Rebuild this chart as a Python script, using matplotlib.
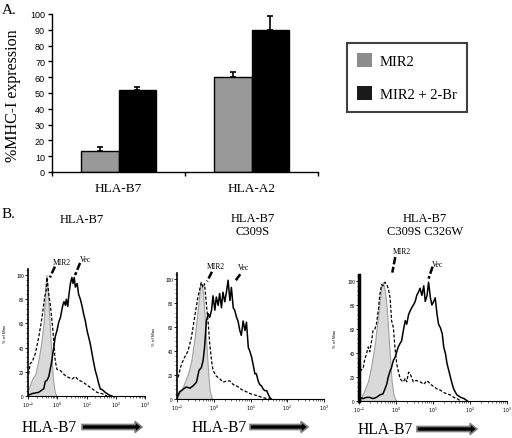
import matplotlib
matplotlib.use("Agg")
import matplotlib.pyplot as plt
import numpy as np
from matplotlib.patches import FancyArrow, Patch
from matplotlib.ticker import MultipleLocator, FixedLocator, NullFormatter

SERIF = ["Liberation Serif", "DejaVu Serif"]
SANS = ["Liberation Sans", "DejaVu Sans"]

# --- panel A: % MHC-I expression ---
alleles = ["HLA-B7", "HLA-A2"]
mir2 = [13.5, 60.0]
mir2_err = [2.5, 3.0]
mir2_br = [52.0, 90.0]
mir2_br_err = [2.0, 9.0]
series_names = ["MIR2", "MIR2 + 2-Br"]

# --- panel B: flow histograms, x = log10(HLA-B7 intensity), y = % of max ---
b7_iso_x = [-1.00, -0.95, -0.86, -0.75, -0.64, -0.54, -0.46, -0.41, -0.37, -0.32, -0.26, -0.20, -0.15, -0.09, -0.03]
b7_iso_y = [5, 8, 14, 18, 30, 45, 62, 90, 100, 85, 60, 35, 15, 4, 0]
b7_mir_x = [-0.98, -0.92, -0.86, -0.75, -0.63, -0.52, -0.43, -0.38, -0.35, -0.29, -0.24, -0.18, -0.12,
            -0.07, -0.01, 0.11, 0.22, 0.33, 0.50, 0.62, 0.73, 0.85, 1.02, 1.19, 1.36, 1.53, 1.70]
b7_mir_y = [18, 27, 28, 35, 49, 65, 82, 87, 98, 84, 76, 62, 46, 29, 22, 21, 18, 16, 14, 16, 13, 12, 9, 6, 3, 2, 0]
b7_vec_x = [-1.00, -0.86, -0.64, -0.46, -0.41, -0.35, -0.29, -0.20, -0.12, -0.07, -0.01, 0.05, 0.11, 0.14,
            0.19, 0.23, 0.28, 0.31, 0.36, 0.39, 0.45, 0.50, 0.54, 0.58, 0.62, 0.68, 0.73, 0.79, 0.85, 0.90,
            0.96, 1.02, 1.07, 1.13, 1.19, 1.25, 1.30, 1.36, 1.42, 1.47, 1.55, 1.64, 1.76, 1.87]
b7_vec_y = [0.5, 2, 3, 6, 12, 13, 16, 27, 40, 49, 54, 61, 65, 69, 75, 78, 75, 80, 74, 82, 93, 98, 93, 98,
            90, 93, 84, 80, 74, 68, 62, 54, 49, 43, 35, 27, 21, 16, 10, 6, 5, 3, 1, 0]

c309_iso_x = [-0.97, -0.88, -0.79, -0.70, -0.61, -0.52, -0.43, -0.36, -0.33, -0.29, -0.25, -0.20, -0.15, -0.11, -0.06, -0.02]
c309_iso_y = [3, 7, 14, 21, 32, 51, 76, 97, 96, 88, 71, 46, 21, 7, 1, 0]
c309_mir_x = [-0.97, -0.88, -0.79, -0.70, -0.61, -0.52, -0.43, -0.34, -0.29, -0.25, -0.20, -0.15, -0.11,
              -0.06, -0.02, 0.07, 0.16, 0.25, 0.35, 0.44, 0.53, 0.62, 0.75, 0.89, 1.03, 1.16, 1.35, 1.53]
c309_mir_y = [18, 29, 35, 40, 51, 68, 85, 97, 93, 96, 79, 63, 46, 32, 24, 19, 17, 14, 15, 15, 12, 11, 8, 6, 4, 3, 1, 0]
c309_vec_x = [-1.00, -0.93, -0.84, -0.75, -0.65, -0.56, -0.47, -0.40, -0.34, -0.29, -0.25, -0.20, -0.15,
              -0.11, -0.06, -0.02, 0.03, 0.07, 0.12, 0.16, 0.21, 0.25, 0.30, 0.35, 0.39, 0.44, 0.48, 0.53,
              0.57, 0.62, 0.66, 0.71, 0.75, 0.80, 0.85, 0.89, 0.94, 0.98, 1.03, 1.07, 1.12, 1.16, 1.21,
              1.25, 1.30, 1.35, 1.39, 1.44, 1.48, 1.53, 1.57]
c309_vec_y = [1, 6, 8, 10, 9, 11, 14, 24, 26, 32, 43, 65, 71, 68, 74, 86, 74, 85, 78, 88, 76, 89, 81, 90,
              99, 82, 93, 76, 74, 68, 65, 57, 53, 65, 57, 64, 43, 40, 35, 29, 21, 21, 15, 12, 11, 8, 7,
              7, 4, 1, 0]

c326_iso_x = [-0.94, -0.85, -0.75, -0.66, -0.57, -0.48, -0.39, -0.35, -0.30, -0.25, -0.21, -0.16, -0.12, -0.07, -0.03, 0.02]
c326_iso_y = [3, 9, 17, 31, 48, 72, 97, 99, 92, 78, 58, 36, 17, 6, 2, 0]
c326_mir_x = [-0.98, -0.89, -0.85, -0.80, -0.75, -0.71, -0.66, -0.62, -0.57, -0.53, -0.48, -0.44, -0.39,
              -0.35, -0.30, -0.25, -0.21, -0.16, -0.12, -0.07, -0.03, 0.02, 0.06, 0.11, 0.15, 0.20, 0.25,
              0.29, 0.34, 0.38, 0.43, 0.47, 0.52, 0.56, 0.65, 0.75, 0.84, 0.93, 1.02, 1.11, 1.20, 1.29,
              1.38, 1.47, 1.56, 1.65, 1.75]
c326_mir_y = [25, 27, 34, 39, 45, 41, 50, 59, 60, 64, 75, 88, 97, 96, 99, 97, 94, 86, 67, 61, 45, 31, 25,
              19, 17, 16, 19, 16, 24, 23, 19, 16, 17, 17, 16, 14, 17, 14, 12, 10, 9, 7, 6, 5, 3, 2, 0]
c326_vec_x = [-0.98, -0.89, -0.80, -0.71, -0.62, -0.53, -0.44, -0.35, -0.25, -0.21, -0.16, -0.12, -0.07,
              -0.03, 0.02, 0.06, 0.11, 0.15, 0.20, 0.25, 0.29, 0.34, 0.38, 0.43, 0.47, 0.52, 0.56, 0.61,
              0.65, 0.70, 0.75, 0.79, 0.84, 0.88, 0.93, 0.97, 1.02, 1.06, 1.11, 1.15, 1.20, 1.25, 1.29,
              1.34, 1.38, 1.43, 1.47, 1.52, 1.56, 1.61, 1.65, 1.75, 1.84, 1.93]
c326_vec_y = [3, 2, 3, 3, 2, 3, 5, 6, 14, 20, 25, 28, 34, 36, 41, 45, 48, 50, 59, 67, 64, 72, 75, 78, 80,
              83, 88, 91, 94, 88, 96, 83, 88, 99, 86, 80, 83, 86, 72, 64, 61, 56, 45, 39, 31, 25, 20, 14,
              10, 7, 5, 3, 2, 0]

hist_titles = ["HLA-B7", "HLA-B7\nC309S", "HLA-B7\nC309S C326W"]

fig = plt.figure(figsize=(5.12, 4.39), dpi=100)
W, H = 512.0, 439.0


def px_rect(x0, y_top, x1, y_bot):
    return [x0 / W, 1 - y_bot / H, (x1 - x0) / W, (y_bot - y_top) / H]


# ---------------- panel A ----------------
ax = fig.add_axes(px_rect(52, 15, 318, 173))
x = np.arange(len(alleles))
bw = 0.28
gray, black = "#999999", "#000000"
ax.bar(x - bw / 2, mir2, bw, color=gray, edgecolor="black", linewidth=1.0)
ax.bar(x + bw / 2, mir2_br, bw, color=black, edgecolor="black", linewidth=1.0)
ax.errorbar(x - bw / 2, mir2, yerr=[np.zeros(2), mir2_err], fmt="none", ecolor="black",
            elinewidth=1.2, capsize=2, capthick=1.2)
ax.errorbar(x + bw / 2, mir2_br, yerr=[np.zeros(2), mir2_br_err], fmt="none", ecolor="black",
            elinewidth=1.2, capsize=2, capthick=1.2)
ax.set_xlim(-0.5, 1.5)
ax.set_ylim(0, 100)
ax.spines["top"].set_visible(False)
ax.spines["right"].set_visible(False)
ax.spines["left"].set_linewidth(1.0)
ax.spines["bottom"].set_linewidth(1.0)
ax.set_xticks(x)
ax.set_xticklabels(alleles, fontsize=9.5, family=SERIF)
ax.tick_params(axis="x", which="major", length=0, pad=7)
ax.xaxis.set_minor_locator(FixedLocator([-0.5, 0.5, 1.5]))
ax.tick_params(axis="x", which="minor", length=3, direction="out", width=1)
ax.set_yticks(np.arange(0, 101, 10))
ax.tick_params(axis="y", length=3, width=1, labelsize=6.5, pad=2)
for lab in ax.get_yticklabels():
    lab.set_family(SANS)
ax.set_ylabel("%MHC-I expression", fontsize=11.5, family=SERIF)
ax.yaxis.set_label_coords(-0.118, 0.49)

fig.legend(handles=[Patch(facecolor="#8c8c8c", edgecolor="none"),
                    Patch(facecolor="#1a1a1a", edgecolor="none")],
           labels=series_names, loc="upper left", bbox_to_anchor=(347 / W, 1 - 44 / H),
           bbox_transform=fig.transFigure, borderaxespad=0, borderpad=0.7,
           handlelength=1.0, handleheight=1.1, handletextpad=0.55, labelspacing=1.25,
           prop={"family": SERIF, "size": 10.5}, fancybox=False, framealpha=1,
           edgecolor="#404040")
fig.legends[0].get_frame().set_linewidth(1.5)

fig.text(2 / W, 1 - 10 / H, "A.", fontsize=11, family=SERIF, va="center")
fig.text(2 / W, 1 - 215 / H, "B.", fontsize=11, family=SERIF, va="center")

# ---------------- panel B ----------------
panels = [
    dict(rect=px_rect(28, 270, 145, 397), title_xy=(82, 220), lblx=-0.18,
         iso=(b7_iso_x, b7_iso_y), mir=(b7_mir_x, b7_mir_y), vec=(b7_vec_x, b7_vec_y),
         mir_lab=((0.16, 111), (-0.08, 107), (-0.25, 98)),
         vec_lab=((0.98, 113), (0.78, 110), (0.61, 100)),
         foot=(22, 82, 142, 428), thick_left=False),
    dict(rect=px_rect(177, 274, 324, 400), title_xy=(253, 225.5), lblx=-0.14,
         iso=(c309_iso_x, c309_iso_y), mir=(c309_mir_x, c309_mir_y), vec=(c309_vec_x, c309_vec_y),
         mir_lab=((0.06, 111), (-0.05, 106), (-0.18, 98)),
         vec_lab=((0.80, 110), (0.72, 104), (0.58, 98)),
         foot=(192, 250, 308, 428), thick_left=False),
    dict(rect=px_rect(359, 276, 507, 402), title_xy=(425, 225.5), lblx=-0.15,
         iso=(c326_iso_x, c326_iso_y), mir=(c326_mir_x, c326_mir_y), vec=(c326_vec_x, c326_vec_y),
         mir_lab=((0.17, 125), (-0.02, 120), (-0.10, 107)),
         vec_lab=((1.13, 114), (0.99, 112), (0.88, 102)),
         foot=(358, 417, 477, 430), thick_left=True),
]

for p, title in zip(panels, hist_titles):
    hx = fig.add_axes(p["rect"])
    ix, iy = p["iso"]
    hx.fill_between(10 ** np.array(ix), iy, color="#d9d9d9", edgecolor="#a0a0a0", linewidth=0.8)
    mx, my = p["mir"]
    hx.plot(10 ** np.array(mx), my, color="black", lw=0.9, ls=(0, (2.5, 1.5)))
    vx, vy = p["vec"]
    hx.plot(10 ** np.array(vx), vy, color="black", lw=1.1)
    hx.set_xscale("log")
    hx.set_xlim(0.1, 1000)
    hx.set_ylim(0, 105)
    hx.spines["top"].set_visible(False)
    hx.spines["right"].set_visible(False)
    hx.spines["left"].set_linewidth(2.5 if p["thick_left"] else 1.2)
    hx.spines["bottom"].set_linewidth(0.8)
    hx.set_yticks([0, 20, 40, 60, 80, 100])
    hx.yaxis.set_minor_locator(MultipleLocator(4))
    hx.tick_params(axis="both", which="major", labelsize=3.4, length=2, width=0.6, pad=1)
    hx.tick_params(axis="both", which="minor", length=1.2, width=0.4)
    hx.xaxis.set_minor_formatter(NullFormatter())
    for lab in hx.get_yticklabels():
        lab.set_family(SANS)
    hx.set_ylabel("% of Max", fontsize=3.2, family=SANS)
    hx.yaxis.set_label_coords(p["lblx"], 0.5)

    for name, (txt, start, tip) in (("MIR2", p["mir_lab"]), ("Vec", p["vec_lab"])):
        hx.text(10 ** txt[0], txt[1], name, fontsize=5.5, family=SERIF, ha="center",
                va="center", clip_on=False)
        hx.plot([10 ** start[0], 10 ** tip[0]], [start[1], tip[1]], color="black", lw=1.8,
                ls=(0, (3, 1)), clip_on=False, solid_capstyle="butt")

    tx, ty = p["title_xy"]
    fig.text(tx / W, 1 - ty / H, title, fontsize=9, family=SERIF, ha="center", va="center")

    t0, a0, a1, ay = p["foot"]
    fig.text(t0 / W, 1 - ay / H, "HLA-B7", fontsize=11.2, family=SERIF, ha="left", va="center")
    fig.add_artist(FancyArrow(a0 / W, 1 - ay / H, (a1 - a0) / W, 0, width=5 / H,
                              head_width=11 / H, head_length=7 / W, length_includes_head=True,
                              transform=fig.transFigure, facecolor="black", edgecolor="#808080",
                              linewidth=1.2))

fig.savefig("out.png", dpi=100)
